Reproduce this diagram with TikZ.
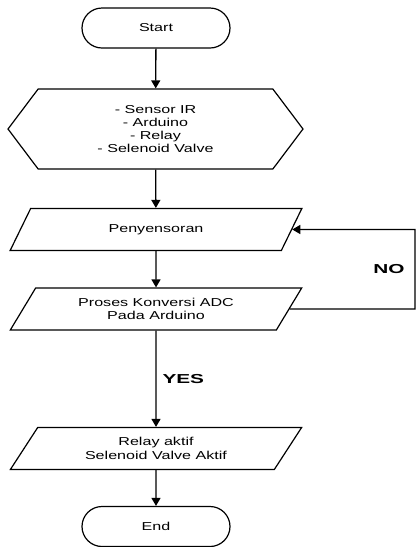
\documentclass[tikz,border=0pt]{standalone}
\usepackage{fontspec}
\setmainfont[FakeStretch=1.4]{Liberation Sans}
\newfontfamily\lblfont[FakeStretch=1.6]{Liberation Sans}
\usetikzlibrary{shapes.misc,shapes.geometric,shapes.symbols,arrows.meta}
\begin{document}
\begin{tikzpicture}[x=1pt,y=-1pt,
    term/.style={rounded rectangle, draw, line width=1.2pt, minimum width=148pt, minimum height=40pt, inner sep=0pt},
    io/.style={trapezium, trapezium left angle=53, trapezium right angle=127, draw, line width=1.2pt, minimum width=292pt, minimum height=42pt, trapezium stretches=true, inner sep=0pt, align=center},
    prep/.style={signal, signal to=west and east, signal pointer angle=106, draw, line width=1.2pt, minimum width=295pt, minimum height=80pt, inner sep=0pt, align=center},
    arr/.style={line width=1.3pt, -{Triangle[width=9pt,length=8pt]}},
    lbl/.style={font=\lblfont\fontsize{13}{15}\selectfont\bfseries}]
    \useasboundingbox (0,0) rectangle (417,547);
    \fontsize{11.5}{13.3}\selectfont
    \node[term] (start) at (156,28) {Start};
    \node[prep, font=\fontsize{11.5}{13.3}\selectfont] (init) at (155.5,129) {- Sensor IR\\- Arduino\\- Relay\\- Selenoid Valve};
    \node[io] (sens) at (156,229.5) {Penyensoran};
    \node[io, font=\fontsize{11.5}{13.3}\selectfont] (adc) at (156,309) {Proses Konversi ADC\\Pada Arduino};
    \node[io, font=\fontsize{11.5}{13.3}\selectfont] (relay) at (156,448.5) {Relay aktif\\Selenoid Valve Aktif};
    \node[term] (end) at (156,526.5) {End};
    \coordinate (n1) at (415,309);
    \coordinate (n2) at (415,229.5);
    \draw[arr] (start) -- (init);
    \draw[arr] (init) -- (sens);
    \draw[arr] (sens) -- (adc);
    \draw[arr] (adc) -- node[lbl, right, xshift=2pt] (yes) {YES} (relay);
    \draw[arr] (relay) -- (end);
    \draw[arr] (adc.east) -- (n1) -- node[lbl, left, xshift=-6pt] (no) {NO} (n2) -- (sens.east);
\end{tikzpicture}
\end{document}
